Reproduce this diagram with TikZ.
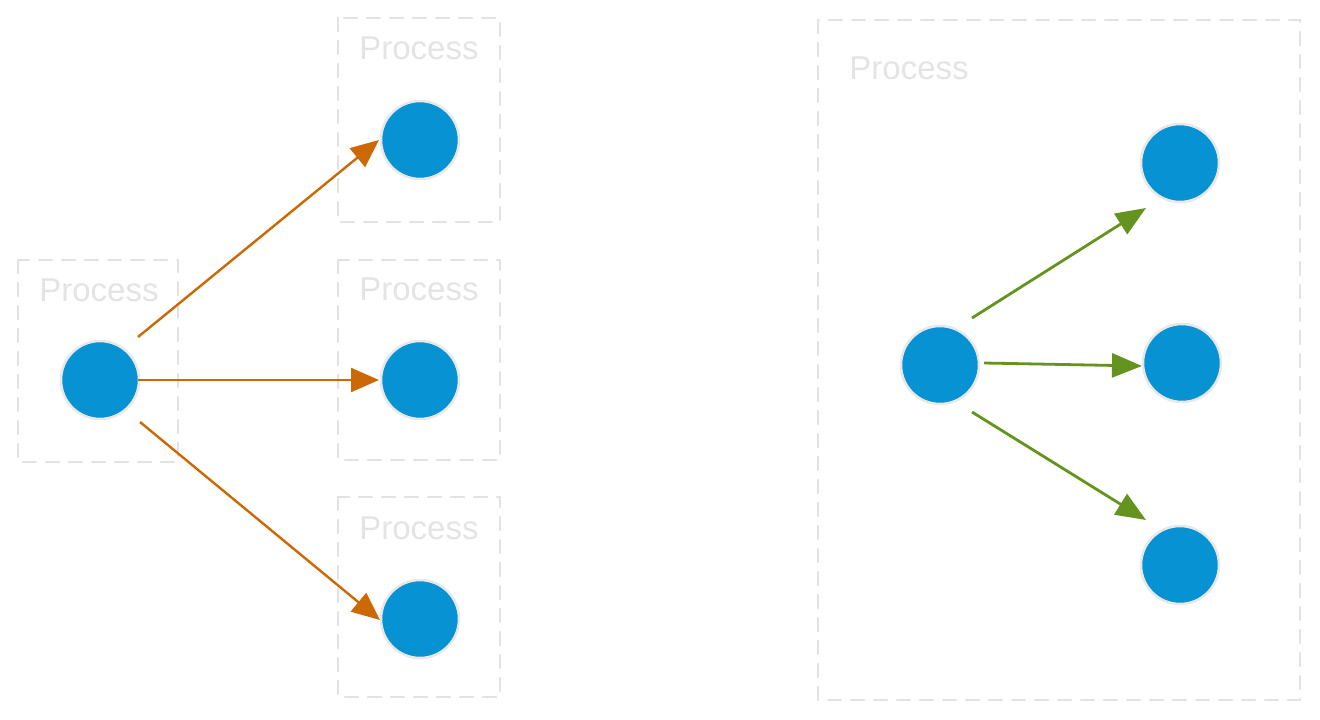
\documentclass[tikz,border=0pt]{standalone}
\usepackage{fontspec}
\setmainfont{Liberation Sans}
\usetikzlibrary{arrows.meta,calc}
\definecolor{nodeblue}{RGB}{7,147,211}
\definecolor{rimgray}{RGB}{232,232,232}
\definecolor{boxgray}{RGB}{226,226,226}
\definecolor{labelgray}{RGB}{228,228,228}
\definecolor{arrorange}{RGB}{204,104,6}
\definecolor{arrgreen}{RGB}{100,148,30}
\begin{document}
\begin{tikzpicture}[x=1pt,y=-1pt,
  dot/.style={circle,fill=nodeblue,draw=rimgray,line width=2.5pt,minimum size=78pt,inner sep=0pt},
  procbox/.style={draw=boxgray,line width=2.5pt,dash pattern=on 13pt off 10pt,line cap=round},
  proclabel/.style={text=labelgray,font=\fontsize{33}{33}\selectfont},
  orangearrow/.style={draw=arrorange,line width=2.4pt,-{Triangle[length=28pt,width=24pt]}},
  greenarrow/.style={draw=arrgreen,line width=2.8pt,-{Triangle[length=30pt,width=24pt]}}
]
\useasboundingbox (0,0) rectangle (1320,720);
\fill[white] (0,0) rectangle (1320,720);

% boxes
\draw[procbox] (18,260) rectangle (178,462);
\draw[procbox] (338,18) rectangle (500,222);
\draw[procbox] (338,260) rectangle (500,460);
\draw[procbox] (338,497) rectangle (500,697);
\draw[procbox] (818,20) rectangle (1300,700);

% labels
\node[proclabel] (labA) at (99,290) {Process};
\node[proclabel] (labB1) at (419,48) {Process};
\node[proclabel] (labB2) at (419,289) {Process};
\node[proclabel] (labB3) at (419,528) {Process};
\node[proclabel] (labR) at (909,68) {Process};

% nodes
\node[dot] (L) at (100,380) {};
\node[dot] (B1) at (420,140) {};
\node[dot] (B2) at (420,380) {};
\node[dot] (B3) at (420,619) {};
\node[dot] (R) at (940,365) {};
\node[dot] (R1) at (1180,163) {};
\node[dot] (R2) at (1182,363) {};
\node[dot] (R3) at (1180,565) {};

% connectors
\draw[orangearrow] ($(L)+(38,-43)$) -- ($(B1)+(-41,0)$);
\draw[orangearrow] ($(L)+(38,0)$) -- ($(B2)+(-41,0)$);
\draw[orangearrow] ($(L)+(40,42)$) -- ($(B3)+(-40,1)$);
\draw[greenarrow] ($(R)+(32,-47)$) -- ($(R1)+(-34,45)$);
\draw[greenarrow] ($(R)+(44,-2)$) -- ($(R2)+(-40,3)$);
\draw[greenarrow] ($(R)+(32,47)$) -- ($(R3)+(-34,-45)$);
\end{tikzpicture}
\end{document}
